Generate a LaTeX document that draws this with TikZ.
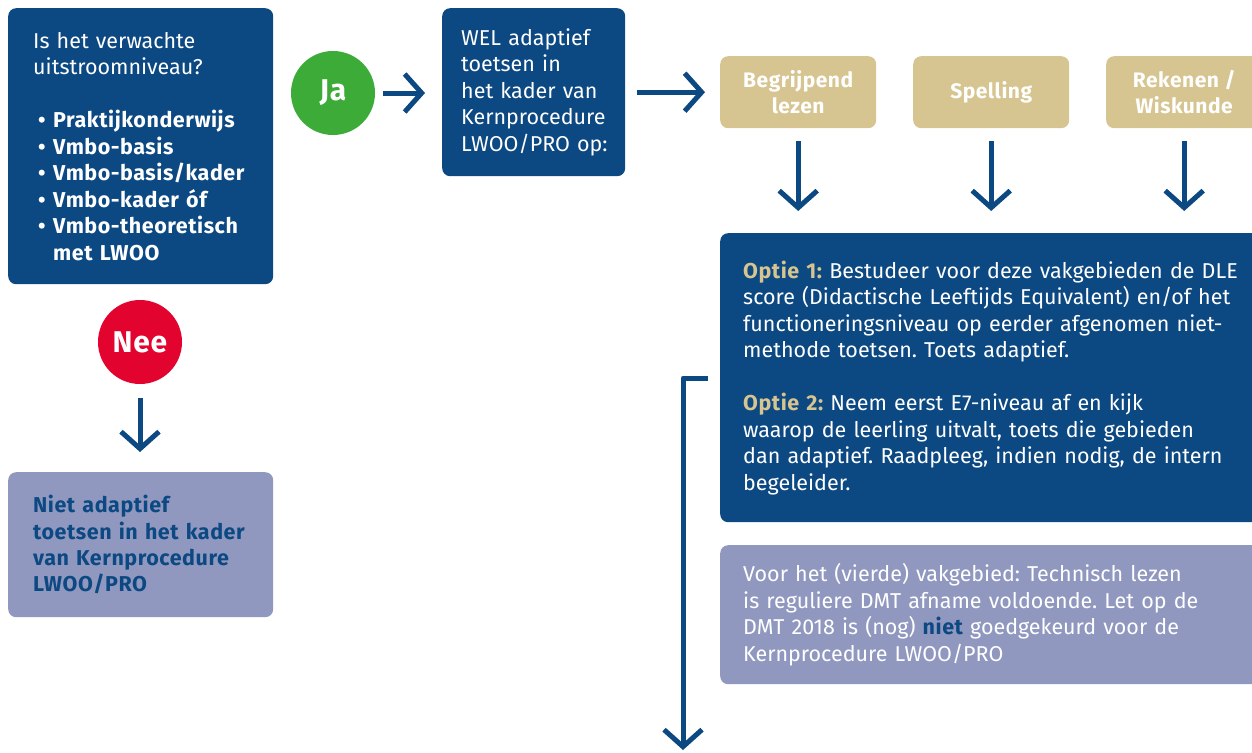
\documentclass[tikz,border=0pt]{standalone}
\usepackage{fontspec}
\setmainfont{Fira Sans}[BoldFeatures={LetterSpace=2.5}]
\usetikzlibrary{arrows.meta,positioning,calc}
\definecolor{dblue}{HTML}{0C4882}
\definecolor{jagreen}{HTML}{3CAB38}
\definecolor{neered}{HTML}{E3032F}
\definecolor{tanc}{HTML}{D6C590}
\definecolor{greyblue}{HTML}{9198BF}
\tikzset{
  base/.style={font=\fontsize{21.5}{26.5}\selectfont},
  bluebox/.style={base,fill=dblue,text=white,rounded corners=8pt,align=left,anchor=north west,inner ysep=0pt},
  greybox/.style={base,fill=greyblue,rounded corners=8pt,align=left,anchor=north west,inner ysep=0pt},
  tanbox/.style={fill=tanc,text=white,rounded corners=8pt,align=center,anchor=north west,inner sep=0pt,
    minimum width=156pt,minimum height=72pt,font=\fontsize{21}{26}\selectfont\bfseries},
  yesno/.style={circle,inner sep=0pt,minimum size=84pt,text=white,font=\fontsize{30}{30}\selectfont\bfseries},
  arr/.style={draw=dblue,line width=5pt,-{Straight Barb[length=17pt,width=38pt,line width=5pt]},line join=round}
}
\newcommand{\bitem}[1]{\makebox[20pt][l]{\hspace*{5pt}•}#1}
\begin{document}
\frenchspacing
\begin{tikzpicture}[x=1pt,y=-1pt]
\useasboundingbox (0,0) rectangle (1252,752);
% question box
\node[bluebox,minimum width=265pt,minimum height=276pt,text width=215pt,inner xsep=25pt] (q) at (8,8)
 {Is het verwachte\\uitstroomniveau?\\[26.5pt]
  \bfseries\bitem{Praktijkonderwijs}\\
  \bitem{Vmbo-basis}\\
  \bitem{Vmbo-basis/kader}\\
  \bitem{Vmbo-kader óf}\\
  \bitem{Vmbo-theoretisch}\\
  \hspace*{20pt}met LWOO};
% yes / no
\node[yesno,fill=jagreen] (ja) at (333,93) {Ja};
\node[yesno,fill=neered] (nee) at (140,342) {Nee};
% WEL box
\node[bluebox,minimum width=183pt,minimum height=168pt,text width=145pt,inner xsep=19pt] (wel) at (442,8)
 {WEL adaptief\\toetsen in\\het kader van\\\mbox{Kernprocedure}\\\mbox{LWOO/PRO op:}};
% subject boxes
\node[tanbox] (begr) at (720,56) {Begrijpend\\lezen};
\node[tanbox] (spel) at (913,56) {Spelling};
\node[tanbox] (rek) at (1106,56) {Rekenen /\\Wiskunde};
% option box
\node[bluebox,minimum width=560pt,minimum height=289pt,text width=514pt,inner xsep=23pt] (opt) at (720,233)
 {{\color{tanc}\bfseries Optie 1:} Bestudeer voor deze vakgebieden de DLE\\
  score (Didactische Leeftijds Equivalent) en/of het\\
  functioneringsniveau op eerder afgenomen niet-\\
  methode toetsen. Toets adaptief.\\[26.5pt]
  {\color{tanc}\bfseries Optie 2:} Neem eerst E7-niveau af en kijk\\
  waarop de leerling uitvalt, toets die gebieden\\
  dan adaptief. Raadpleeg, indien nodig, de intern\\
  begeleider.};
% technisch lezen box
\node[greybox,text=white,minimum width=560pt,minimum height=139pt,text width=514pt,inner xsep=23pt] (tech) at (720,545)
 {Voor het (vierde) vakgebied: Technisch lezen\\
  is reguliere DMT afname voldoende. Let op de\\
  DMT 2018 is (nog) {\color{dblue}\bfseries niet} goedgekeurd voor de\\
  Kernprocedure LWOO/PRO};
% niet box
\node[greybox,text=dblue,minimum width=265pt,minimum height=145pt,text width=215pt,inner xsep=25pt,font=\fontsize{21.5}{26.2}\selectfont\bfseries] (niet) at (8,472)
 {Niet adaptief\\toetsen in het kader\\van Kernprocedure\\LWOO/PRO};
% connectors
\draw[arr,shorten <=8pt,shorten >=17pt] (ja) -- (ja -| wel.west);
\draw[arr,shorten <=12pt,shorten >=15pt] (wel.east |- begr.west) -- (begr.west);
\foreach \b in {begr,spel,rek}
  \draw[arr,shorten <=13pt,shorten >=22pt] (\b.south) -- (\b.south |- opt.north);
\draw[arr,shorten <=14pt,shorten >=20pt] (nee.south) -- (nee.south |- niet.north);
\coordinate (elbstart) at (708,378);
\coordinate (elbend) at (683,750);
\draw[arr] (elbstart) -- (elbend |- elbstart) -- (elbend);
\end{tikzpicture}
\end{document}
